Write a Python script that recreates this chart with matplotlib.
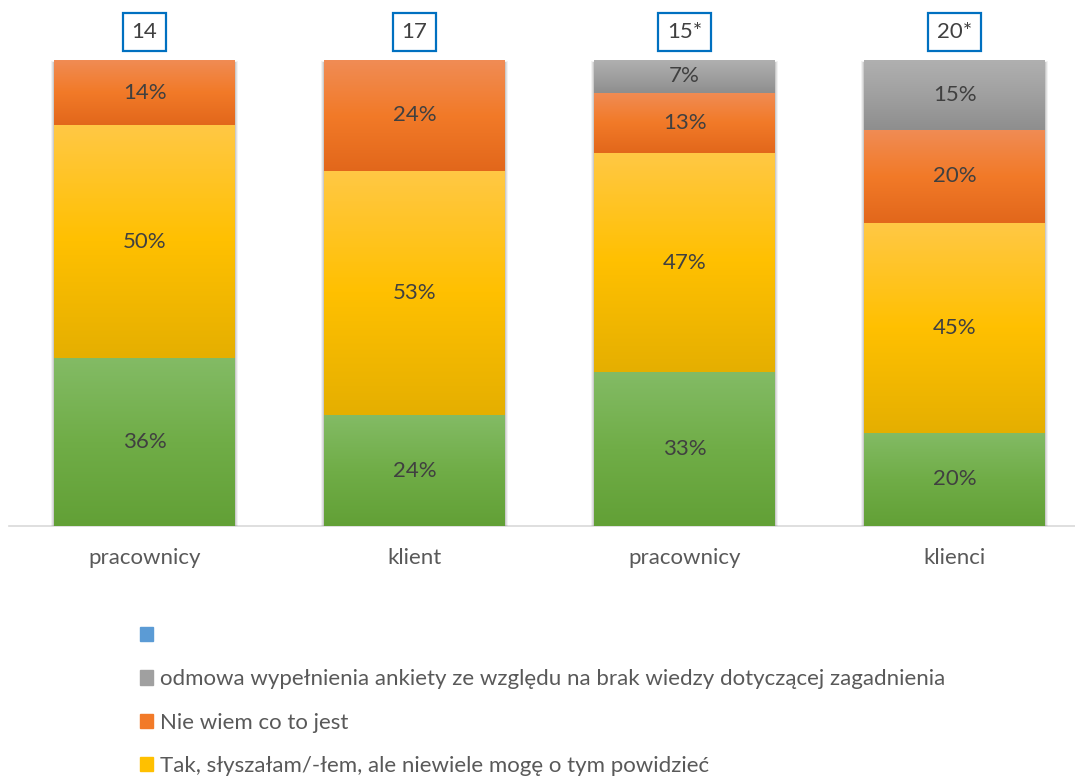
import numpy as np
import matplotlib.pyplot as plt
from matplotlib.colors import LinearSegmentedColormap
from matplotlib.patches import Patch, Rectangle

plt.rcParams['font.family'] = ['Lato', 'DejaVu Sans']

groups = ["pracownicy", "klient", "pracownicy", "klienci"]
n_labels = ["14", "17", "15*", "20*"]

# percentages per group, bottom to top
green_pct = [36, 24, 33, 20]
yellow_pct = [50, 53, 47, 45]
orange_pct = [14, 24, 13, 20]
gray_pct = [0, 0, 7, 15]

legend_labels = [
    "",
    "odmowa wypełnienia ankiety ze względu na brak wiedzy dotyczącej zagadnienia",
    "Nie wiem co to jest",
    "Tak, słyszałam/-łem, ale niewiele mogę o tym powidzieć",
]

series = [green_pct, yellow_pct, orange_pct, gray_pct]
# top, middle, bottom colour of each segment's gradient
grads = [
    ["#83bb65", "#70ad47", "#62a036"],
    ["#ffc845", "#ffc000", "#e5af00"],
    ["#f08c55", "#f27a28", "#e2671b"],
    ["#b0b0b0", "#a0a0a0", "#8e8e8e"],
]
text_col = "#404040"
fs = 16

fig = plt.figure(figsize=(10.75, 7.78), dpi=100)
ax = fig.add_axes([9 / 1075, 252 / 778, 1 - 9 / 1075, 466 / 778])

x = np.arange(len(groups))
totals = np.sum(series, axis=0)
width = 0.67

# soft shadow behind the bars
for xi in x:
    for k, a in zip([0.012, 0.008, 0.004], [0.05, 0.07, 0.09]):
        ax.add_patch(Rectangle((xi - width / 2 - k, -0.006), width + 2 * k, 1.0 + k * 0.3,
                               facecolor="black", alpha=a, lw=0, zorder=1))

bottom = np.zeros(len(groups))
for vals, cols in zip(series, grads):
    frac = np.array(vals) / totals
    bars = ax.bar(x, frac, width, bottom=bottom, color=cols[1], lw=0, zorder=2)
    cmap = LinearSegmentedColormap.from_list("g", cols)
    grad = np.linspace(0, 1, 256).reshape(-1, 1)
    for b, v in zip(bars, vals):
        if v == 0:
            continue
        x0, y0 = b.get_x(), b.get_y()
        w, h = b.get_width(), b.get_height()
        im = ax.imshow(grad, cmap=cmap, aspect="auto", origin="upper",
                       extent=(x0, x0 + w, y0, y0 + h), zorder=3)
        im.set_clip_path(b)
        ax.text(x0 + w / 2, y0 + h / 2, f"{v}%", ha="center", va="center",
                fontsize=fs, color=text_col, zorder=4)
    bottom += frac

for xi, lab in zip(x, n_labels):
    ax.annotate(lab, xy=(xi, 1.0), xytext=(0, 20), textcoords="offset points",
                ha="center", va="center", fontsize=fs, color=text_col,
                bbox=dict(boxstyle="square,pad=0.4", fc="white", ec="#0070c0", lw=1.6))

ax.set_xlim(-0.502, 3.446)
ax.set_ylim(0, 1)
ax.set_xticks(x)
ax.set_xticklabels(groups, fontsize=fs, color="#595959")
ax.tick_params(axis="x", length=0, pad=16)
ax.set_yticks([])
for s in ["top", "left", "right"]:
    ax.spines[s].set_visible(False)
ax.spines["bottom"].set_color("#d9d9d9")
ax.spines["bottom"].set_linewidth(1.2)
ax.spines["bottom"].set_zorder(0)

handles = [Patch(color="#5b9bd5"), Patch(color="#a0a0a0"),
           Patch(color="#f27a28"), Patch(color="#ffc000")]
fig.legend(handles, legend_labels, loc="upper left", bbox_to_anchor=(120 / 1075, 1 - 606 / 778),
           frameon=False, fontsize=fs, labelcolor="#595959", handlelength=0.6,
           handleheight=0.6, handletextpad=0.3, labelspacing=1.05)

fig.savefig("out.png", dpi=100)
